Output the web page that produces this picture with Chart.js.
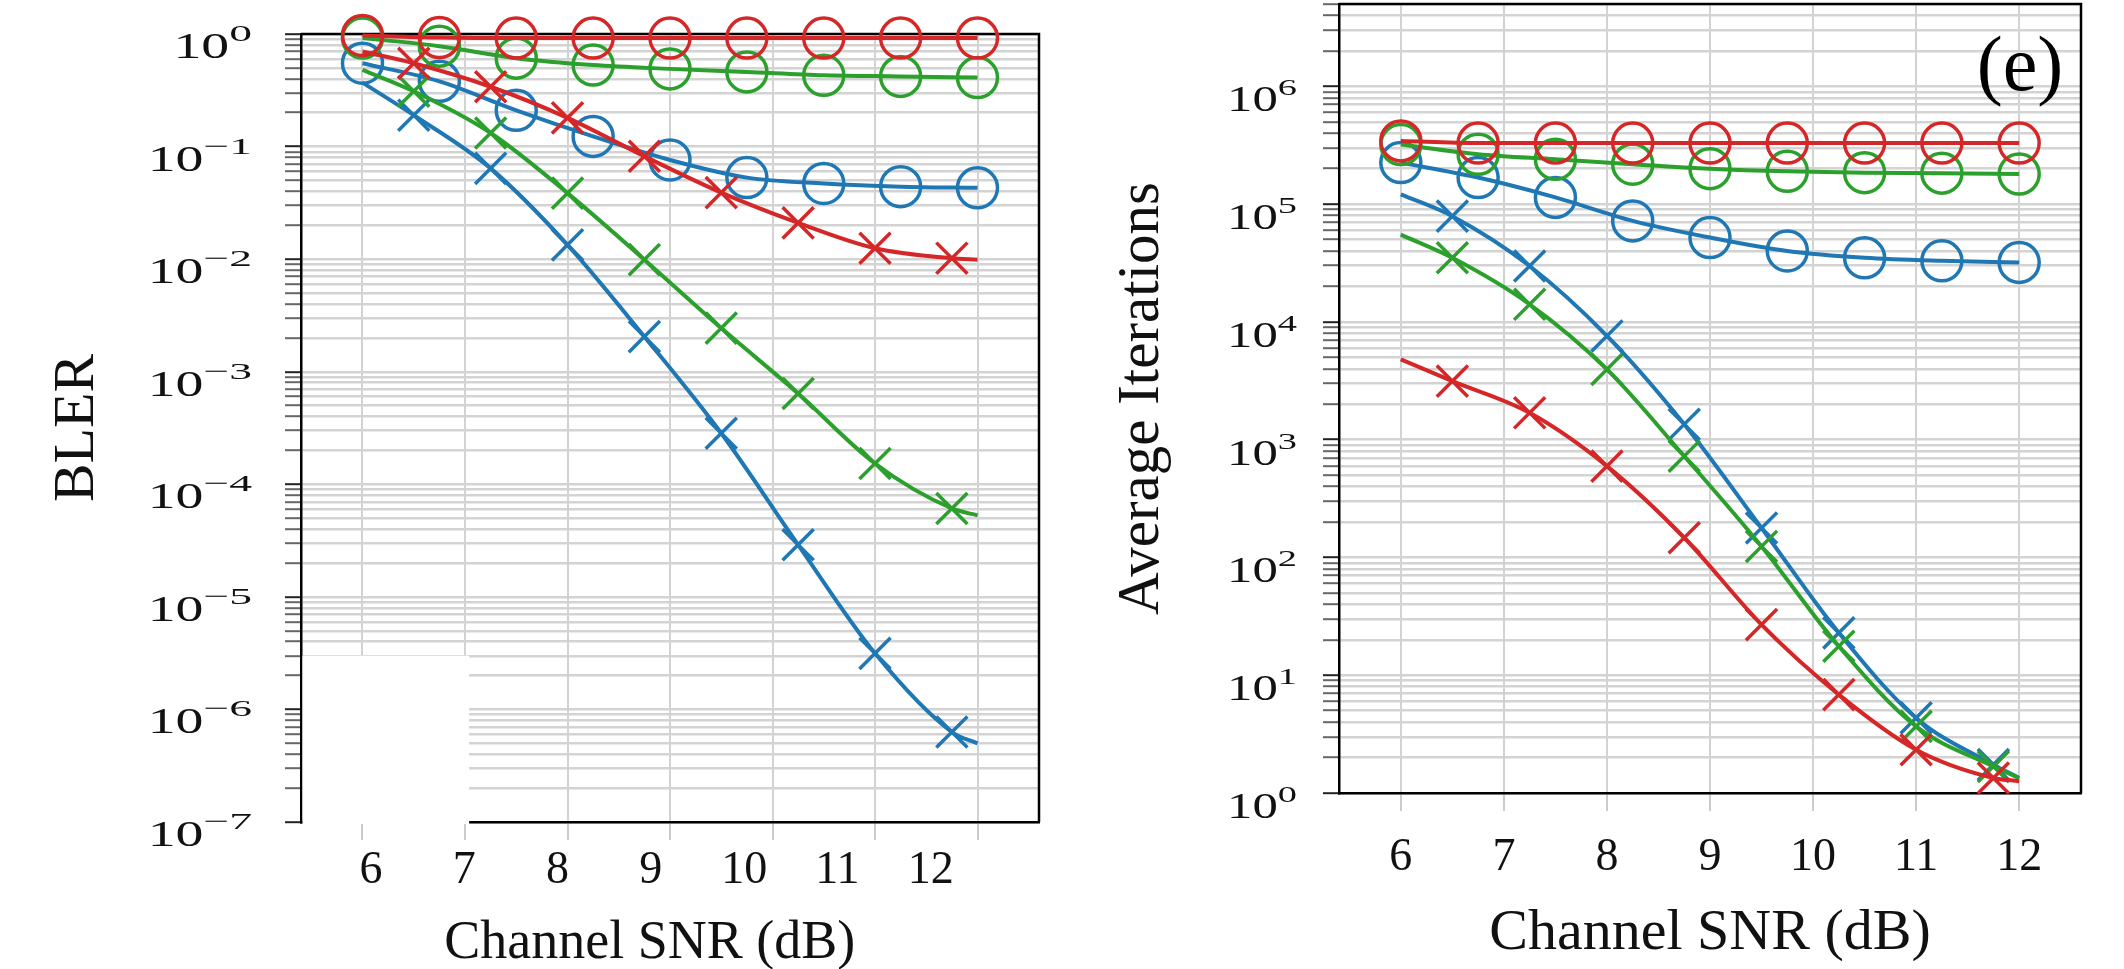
<!DOCTYPE html>
<html>
<head>
<meta charset="utf-8">
<script src="https://cdn.jsdelivr.net/npm/chart.js@4.4.1/dist/chart.umd.min.js"></script>
<style>
  html, body { margin: 0; padding: 0; background: #fff; }
  body { width: 2124px; height: 969px; position: relative; overflow: hidden; }
  canvas { position: absolute; top: 0; }
  #bler { left: 0; }
  #iters { left: 1080px; }
</style>
</head>
<body>
<canvas id="bler" width="1080" height="969"></canvas>
<canvas id="iters" width="1044" height="969"></canvas>
<script>
// x positions (dB). Circle curves are marked every 0.75 dB from 6 dB,
// cross curves run 6..12 dB with marks offset by 0.5 dB.
const snrTicks = [6, 7, 8, 9, 10, 11, 12];
const circleSnr = [6, 6.75, 7.5, 8.25, 9, 9.75, 10.5, 11.25, 12];
const crossSnr = [6, 6.5, 7.25, 8, 8.75, 9.5, 10.25, 11, 11.75, 12];

// block error rate
const blerRedCircle   = [0.97, 0.93, 0.92, 0.92, 0.92, 0.92, 0.92, 0.92, 0.92];
const blerGreenCircle = [0.92, 0.78, 0.61, 0.53, 0.49, 0.46, 0.43, 0.42, 0.41];
const blerBlueCircle  = [0.55, 0.38, 0.21, 0.123, 0.076, 0.053, 0.047, 0.044, 0.043];
const blerRedCross    = [0.7, 0.55, 0.34, 0.18, 0.082, 0.039, 0.021, 0.0125, 0.0102, 0.0099];
const blerGreenCross  = [0.48, 0.31, 0.132, 0.0386, 0.0099, 0.00244, 6.4e-4, 1.53e-4, 6.1e-5, 5.3e-5];
const blerBlueCross   = [0.37, 0.19, 0.064, 0.0134, 0.00205, 2.84e-4, 2.9e-5, 3.15e-6, 6.3e-7, 5.0e-7];

// average decoder iterations
const itRedCircle   = [3.44e5, 3.3e5, 3.3e5, 3.3e5, 3.3e5, 3.3e5, 3.3e5, 3.3e5, 3.3e5];
const itGreenCircle = [3.2e5, 2.65e5, 2.4e5, 2.18e5, 2.0e5, 1.9e5, 1.85e5, 1.83e5, 1.8e5];
const itBlueCircle  = [2.25e5, 1.68e5, 1.14e5, 7.2e4, 5.2e4, 4.0e4, 3.5e4, 3.3e4, 3.2e4];
const itRedCross    = [4.8e3, 3.14e3, 1.69e3, 596, 147, 26.9, 6.84, 2.33, 1.34, 1.26];
const itGreenCross  = [5.5e4, 3.5e4, 1.41e4, 3.95e3, 724, 124, 17.6, 3.68, 1.68, 1.34];
const itBlueCross   = [1.21e5, 7.9e4, 2.98e4, 7.6e3, 1.35e3, 178, 22.9, 4.34, 1.74, 1.34];

// blank patch in the lower-left corner of the BLER panel (data units)
const blerPatch = { xTo: 7.04, yFrom: 3e-6 };

const RED = '#d62728', GREEN = '#2ca02c', BLUE = '#1f77b4';
const SERIF = '"Liberation Serif", "Times New Roman", serif';
const INK = '#111';

function circleSet(values, color) {
  return {
    data: circleSnr.map((x, i) => ({ x, y: values[i] })),
    borderColor: color,
    borderWidth: 4,
    pointStyle: 'circle',
    pointRadius: 20,
    pointBorderWidth: 3.5,
    pointBorderColor: color,
    pointBackgroundColor: 'rgba(0,0,0,0)',
    cubicInterpolationMode: 'monotone',
    clip: false
  };
}

function crossSet(values, color) {
  const last = crossSnr.length - 1;
  return {
    data: crossSnr.map((x, i) => ({ x, y: values[i] })),
    borderColor: color,
    borderWidth: 4,
    pointStyle: 'crossRot',
    pointRadius: c => (c.dataIndex === 0 || c.dataIndex === last) ? 0 : 22,
    pointBorderWidth: 3.5,
    pointBorderColor: color,
    cubicInterpolationMode: 'monotone',
    clip: false
  };
}

// 1..9 x 10^e gridlines, stopping at the axis top
function logTicks(lo, hi, top) {
  const out = [];
  for (let e = lo; e <= hi; e++) {
    for (let k = 1; k <= 9; k++) {
      const v = k * Math.pow(10, e);
      if (v > top * 1.0001) return out;
      out.push({ value: v });
    }
  }
  return out;
}

function isDecade(v) {
  const l = Math.log10(v);
  return Math.abs(l - Math.round(l)) < 1e-6;
}

// top and right edges of the box, plus the optional white patch
const frame = {
  id: 'frame',
  beforeDatasetsDraw(chart, args, opts) {
    const { ctx, chartArea: a } = chart;
    ctx.save();
    ctx.strokeStyle = '#000';
    ctx.lineWidth = 2.5;
    ctx.beginPath();
    ctx.moveTo(a.left, a.top);
    ctx.lineTo(a.right, a.top);
    ctx.lineTo(a.right, a.bottom);
    ctx.stroke();
    if (opts.patch) {
      const x2 = chart.scales.x.getPixelForValue(opts.patch.xTo);
      const y1 = chart.scales.y.getPixelForValue(opts.patch.yFrom);
      ctx.fillStyle = '#fff';
      ctx.fillRect(a.left + 1.5, y1, x2 - a.left - 1.5, a.bottom + 2 - y1);
    }
    ctx.restore();
  },
  afterDraw(chart, args, opts) {
    if (!opts.tag) return;
    const { ctx, chartArea: a } = chart;
    ctx.save();
    ctx.fillStyle = '#000';
    ctx.font = '78px ' + SERIF;
    ctx.textAlign = 'center';
    ctx.textBaseline = 'middle';
    ctx.fillText(opts.tag, a.right - 61, a.top + 66);
    ctx.restore();
  }
};

// "10^n" labels on the decade ticks of the log axis
const decadeLabels = {
  id: 'decadeLabels',
  afterDraw(chart, args, o) {
    const scale = chart.scales.y;
    const ctx = chart.ctx;
    ctx.save();
    ctx.fillStyle = INK;
    ctx.textAlign = 'left';
    ctx.textBaseline = 'alphabetic';
    scale.ticks.forEach(t => {
      if (!isDecade(t.value)) return;
      const exp = Math.round(Math.log10(t.value));
      const sup = (exp < 0 ? '\u2212' : '') + Math.abs(exp);
      ctx.font = o.size + 'px ' + SERIF;
      const wBase = ctx.measureText('10').width * o.stretch;
      ctx.font = o.supSize + 'px ' + SERIF;
      const wSup = ctx.measureText(sup).width * o.supStretch;
      const xr = scale.right - o.gap;
      const yb = scale.getPixelForValue(t.value) + o.shift;

      ctx.save();
      ctx.translate(xr - wSup - wBase, yb);
      ctx.scale(o.stretch, 1);
      ctx.font = o.size + 'px ' + SERIF;
      ctx.fillText('10', 0, 0);
      ctx.restore();

      ctx.save();
      ctx.translate(xr - wSup, yb - o.raise);
      ctx.scale(o.supStretch, 1);
      ctx.font = o.supSize + 'px ' + SERIF;
      ctx.fillText(sup, 0, 0);
      ctx.restore();
    });
    ctx.restore();
  }
};

// SNR numbers written under a label-only axis
const snrLabelRow = {
  id: 'snrLabelRow',
  afterDraw(chart, args, o) {
    const scale = chart.scales[o.scaleId];
    if (!scale) return;
    const ctx = chart.ctx;
    ctx.save();
    ctx.fillStyle = INK;
    ctx.font = o.size + 'px ' + SERIF;
    ctx.textAlign = 'center';
    ctx.textBaseline = 'middle';
    scale.ticks.forEach(t => {
      ctx.fillText(String(t.value), scale.getPixelForValue(t.value), scale.top + o.offset);
    });
    ctx.restore();
  }
};

const common = {
  responsive: false,
  animation: false,
  devicePixelRatio: 1,
  events: []
};

const xGrid = { color: '#d2d2d2', lineWidth: 2, tickLength: 18, tickColor: '#cccccc', tickWidth: 2 };
const yGrid = {
  color: '#d3d3d3',
  lineWidth: 2.4,
  tickLength: 16,
  tickWidth: 2,
  tickColor: c => (c.tick && isDecade(c.tick.value)) ? '#222' : '#666'
};
const axisBorder = { color: '#000', width: 2.5 };

// left panel: BLER vs SNR
new Chart(document.getElementById('bler'), {
  type: 'line',
  data: {
    datasets: [
      circleSet(blerRedCircle, RED),
      crossSet(blerRedCross, RED),
      circleSet(blerGreenCircle, GREEN),
      crossSet(blerGreenCross, GREEN),
      circleSet(blerBlueCircle, BLUE),
      crossSet(blerBlueCross, BLUE)
    ]
  },
  options: {
    ...common,
    layout: { autoPadding: false, padding: { left: 0, right: 41, top: 34, bottom: 0 } },
    scales: {
      x: {
        type: 'linear', min: 5.4, max: 12.6,
        afterBuildTicks: s => { s.ticks = snrTicks.map(v => ({ value: v })); },
        afterFit: s => { s.height = 0; },
        ticks: { display: false },
        grid: xGrid,
        border: axisBorder
      },
      // the numbers of this panel sit on their own, slightly tighter spacing
      snrLabels: {
        type: 'linear', axis: 'x', position: 'bottom', weight: 1,
        min: 5.25, max: 13.16,
        afterBuildTicks: s => { s.ticks = snrTicks.map(v => ({ value: v })); },
        afterFit: s => { s.height = 147; },
        grid: { display: false, drawTicks: false },
        border: { display: false },
        ticks: { display: false },
        title: {
          display: true, text: 'Channel SNR (dB)   ', color: INK,
          font: { family: SERIF, size: 54, lineHeight: 0.9 },
          padding: { top: 0, bottom: 1 }
        }
      },
      y: {
        type: 'logarithmic', min: 1e-7, max: 1,
        afterBuildTicks: s => { s.ticks = logTicks(-7, 0, 1); },
        afterFit: s => { s.width = 301; },
        ticks: { display: false },
        grid: yGrid,
        border: axisBorder,
        title: {
          display: true, text: 'BLER', color: INK,
          font: { family: SERIF, size: 58 },
          padding: { top: 43, bottom: 0 }
        }
      }
    },
    plugins: {
      legend: { display: false },
      tooltip: { enabled: false },
      frame: { patch: blerPatch },
      snrLabelRow: { scaleId: 'snrLabels', size: 46, offset: 49 },
      decadeLabels: { size: 36, supSize: 24, stretch: 1.55, supStretch: 1.9, gap: 49, shift: 24, raise: 17 }
    }
  },
  plugins: [frame, decadeLabels, snrLabelRow]
});

// right panel: average iterations vs SNR
new Chart(document.getElementById('iters'), {
  type: 'line',
  data: {
    datasets: [
      circleSet(itRedCircle, RED),
      crossSet(itRedCross, RED),
      circleSet(itGreenCircle, GREEN),
      crossSet(itGreenCross, GREEN),
      circleSet(itBlueCircle, BLUE),
      crossSet(itBlueCross, BLUE)
    ]
  },
  options: {
    ...common,
    layout: { autoPadding: false, padding: { left: 0, right: 43, top: 4, bottom: 0 } },
    scales: {
      x: {
        type: 'linear', min: 5.4, max: 12.6,
        afterBuildTicks: s => { s.ticks = snrTicks.map(v => ({ value: v })); },
        afterFit: s => { s.height = 176; },
        grid: xGrid,
        border: axisBorder,
        ticks: {
          autoSkip: false, maxRotation: 0, padding: 19, color: INK,
          font: { family: SERIF, size: 46 },
          callback: v => String(v)
        },
        title: {
          display: true, text: 'Channel SNR (dB)', color: INK,
          font: { family: SERIF, size: 58 },
          padding: { top: 0, bottom: 0 }
        }
      },
      y: {
        type: 'logarithmic', min: 1, max: 5e6,
        afterBuildTicks: s => { s.ticks = logTicks(0, 6, 5e6); },
        afterFit: s => { s.width = 259; },
        ticks: { display: false },
        grid: yGrid,
        border: axisBorder,
        title: {
          display: true, text: 'Average Iterations', color: INK,
          font: { family: SERIF, size: 59 },
          padding: { top: 27, bottom: 0 }
        }
      }
    },
    plugins: {
      legend: { display: false },
      tooltip: { enabled: false },
      frame: { tag: '(e)' },
      decadeLabels: { size: 35, supSize: 24, stretch: 1.45, supStretch: 1.6, gap: 42, shift: 25, raise: 16 }
    }
  },
  plugins: [frame, decadeLabels]
});
</script>
</body>
</html>
